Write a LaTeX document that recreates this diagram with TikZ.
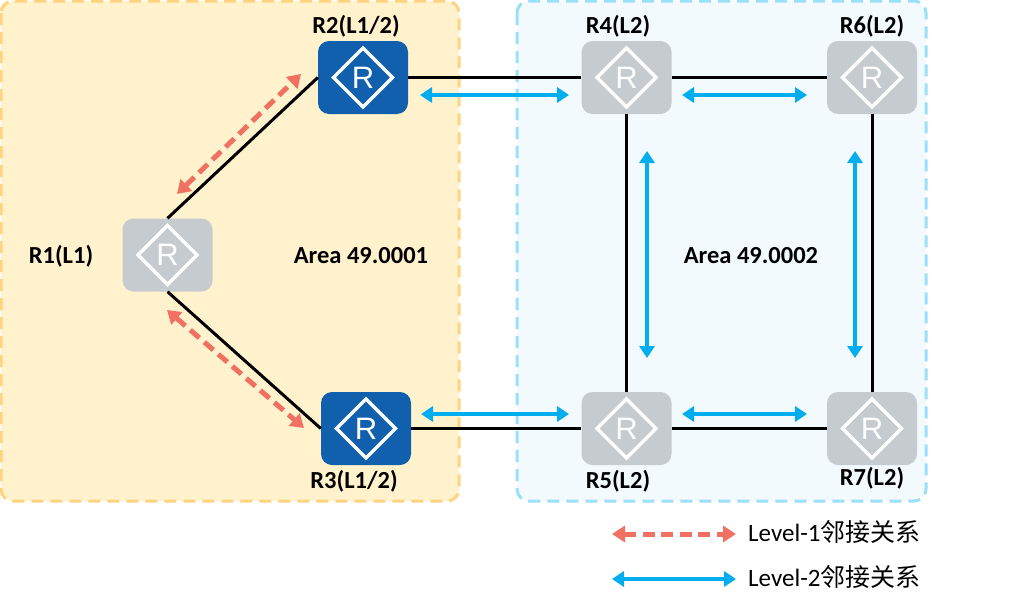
\documentclass[tikz,border=0pt]{standalone}
\usepackage{fontspec}
\setmainfont{Carlito}
\newfontfamily\cjkfont{Noto Sans CJK SC}
\newfontfamily\routerfont{Liberation Sans}
\usetikzlibrary{arrows.meta}
\definecolor{areaYellow}{HTML}{FFF2CC}
\definecolor{areaYellowEdge}{HTML}{FFD37F}
\definecolor{areaBlue}{HTML}{F2FAFE}
\definecolor{areaBlueEdge}{HTML}{9BE0F9}
\definecolor{routerBlue}{HTML}{1160AD}
\definecolor{routerGrey}{HTML}{C5CBCE}
\definecolor{adjRed}{HTML}{F07162}
\definecolor{adjBlue}{HTML}{00AEEF}
\tikzset{
  areabox/.style={line width=3pt,dash pattern=on 12pt off 7pt,rounded corners=12pt},
  routerbox/.style={minimum width=90pt,minimum height=73pt,inner sep=0pt,rounded corners=11pt,
    text=white,font=\routerfont\fontsize{31}{31}\selectfont},
  routermark/.style={draw=white,line width=3.5pt,miter limit=10},
  link/.style={draw=black,line width=3pt},
  lab/.style={font=\bfseries\fontsize{24.5}{28}\selectfont,inner sep=0pt,text=black},
  legendlab/.style={font=\fontsize{25}{28}\selectfont,inner sep=0pt,text=black,anchor=west},
  adjone/.style={draw=adjRed,line width=5pt,dash pattern=on 12pt off 6.5pt,
    {Triangle[length=13pt,width=16pt,fill=adjRed]}-{Triangle[length=13pt,width=16pt,fill=adjRed]}},
  adjtwo/.style={draw=adjBlue,line width=4pt,
    {Triangle[length=12pt,width=15pt,fill=adjBlue]}-{Triangle[length=12pt,width=15pt,fill=adjBlue]}}
}
\newcommand{\routerat}[3]{%
  \node[routerbox,fill=#3] (#1) at (#2) {R};
  \draw[routermark] (#1.center) ++(-29.5,0) -- ++(29.5,-29.5) -- ++(29.5,29.5) -- ++(-29.5,29.5) -- cycle;
}
\begin{document}
\begin{tikzpicture}[x=1pt,y=-1pt]
\useasboundingbox (0,0) rectangle (1010,608);
\fill[white] (0,0) rectangle (1010,608);
\draw[areabox,fill=areaYellow,draw=areaYellowEdge] (1,1) rectangle (459,501);
\draw[areabox,fill=areaBlue,draw=areaBlueEdge] (517,1) rectangle (926,501);

\routerat{R1}{167.5,255}{routerGrey}
\routerat{R2}{363,77.5}{routerBlue}
\routerat{R3}{366,428.5}{routerBlue}
\routerat{R4}{626.5,77.5}{routerGrey}
\routerat{R5}{626.5,428.5}{routerGrey}
\routerat{R6}{872,77.5}{routerGrey}
\routerat{R7}{872,428.5}{routerGrey}

\draw[link] (R1.north) -- (R2.west);
\draw[link] (R1.south) -- (R3.west);
\draw[link] (R2.east) -- (R4.west);
\draw[link] (R3.east) -- (R5.west);
\draw[link] (R4.east) -- (R6.west);
\draw[link] (R5.east) -- (R7.west);
\draw[link] (R4.south) -- (R5.north);
\draw[link] (R6.south) -- (R7.north);

\coordinate (a1) at (177,194); \coordinate (a2) at (301,74);
\coordinate (b1) at (167,310); \coordinate (b2) at (304,428);
\coordinate (c1) at (420,95);  \coordinate (c2) at (569,95);
\coordinate (d1) at (682,95);  \coordinate (d2) at (807,95);
\coordinate (e1) at (421,414); \coordinate (e2) at (569,414);
\coordinate (f1) at (682,414); \coordinate (f2) at (807,414);
\coordinate (g1) at (647,151); \coordinate (g2) at (647,358);
\coordinate (h1) at (855,151); \coordinate (h2) at (855,358);
\coordinate (k1) at (612,534); \coordinate (k2) at (736,534);
\coordinate (m1) at (612,579); \coordinate (m2) at (736,579);

\draw[adjone] (a1) -- (a2);
\draw[adjone] (b1) -- (b2);
\draw[adjone] (k1) -- (k2);
\draw[adjtwo] (c1) -- (c2);
\draw[adjtwo] (d1) -- (d2);
\draw[adjtwo] (e1) -- (e2);
\draw[adjtwo] (f1) -- (f2);
\draw[adjtwo] (g1) -- (g2);
\draw[adjtwo] (h1) -- (h2);
\draw[adjtwo] (m1) -- (m2);

\node[lab] (t1) at (61,256) {R1(L1)};
\node[lab] (t2) at (356,26) {R2(L1/2)};
\node[lab] (t3) at (354,481) {R3(L1/2)};
\node[lab] (t4) at (618,26) {R4(L2)};
\node[lab] (t5) at (618,481) {R5(L2)};
\node[lab] (t6) at (872,26) {R6(L2)};
\node[lab] (t7) at (872,478) {R7(L2)};
\node[lab] (ta) at (361,256) {Area 49.0001};
\node[lab] (tb) at (751,256) {Area 49.0002};
\node[legendlab] (l1) at (748,532) {Level-1{\cjkfont 邻接关系}};
\node[legendlab] (l2) at (748,577) {Level-2{\cjkfont 邻接关系}};
\end{tikzpicture}
\end{document}
